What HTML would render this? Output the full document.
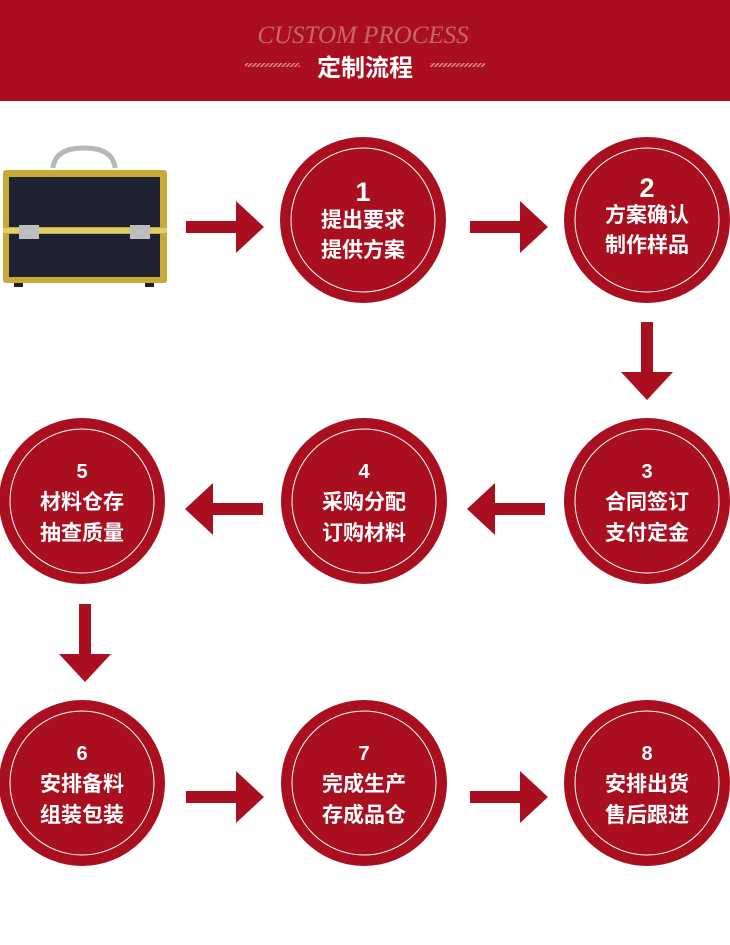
<!DOCTYPE html>
<html><head><meta charset="utf-8"><style>
html,body{margin:0;padding:0;background:#fff;width:730px;height:945px;overflow:hidden}
svg{display:block}
text{font-family:"Liberation Sans","Noto Sans CJK SC",sans-serif;font-weight:bold;fill:#fff;text-anchor:middle}
</style></head><body>
<svg width="730" height="945" viewBox="0 0 730 945" xmlns="http://www.w3.org/2000/svg">
<defs>
<pattern id="hatch" width="3" height="3" patternUnits="userSpaceOnUse" patternTransform="rotate(45)"><rect width="1.5" height="3" fill="#d98a92"/></pattern>
<g id="R"><rect x="0" y="-6" width="52" height="12" fill="#a90f1e"/><polygon points="50,-26 78,0 50,26" fill="#a90f1e"/></g>
</defs>
<rect x="0" y="0" width="730" height="101" fill="#a90f1e"/>
<text x="363" y="43" style="font-family:'Liberation Serif',serif;font-style:italic;font-weight:normal;font-size:25px;fill:#c56670">CUSTOM PROCESS</text>
<rect x="245" y="63" width="55" height="4" fill="url(#hatch)"/>
<rect x="430" y="63" width="55" height="4" fill="url(#hatch)"/>
<text x="365" y="76" style="font-size:24px">定制流程</text>

<!-- case -->
<g>
<path d="M53 168 Q55 148 84 148 Q113 148 115 168" fill="none" stroke="#b8b8b8" stroke-width="5"/>
<rect x="3" y="170" width="164" height="113" rx="3" fill="#c9a93a"/>
<rect x="9" y="177" width="151" height="50" fill="#1f2230"/>
<rect x="9" y="234" width="151" height="43" fill="#1f2230"/>
<rect x="3" y="228" width="164" height="5" fill="#e0cf70"/>
<rect x="19" y="225" width="20" height="14" fill="#bdbdbd"/>
<rect x="130" y="225" width="20" height="14" fill="#bdbdbd"/>
<rect x="14" y="283" width="9" height="4" fill="#222"/><rect x="145" y="283" width="9" height="4" fill="#222"/>
</g>

<g fill="#a90f1e">
<circle cx="363" cy="220" r="83"/><circle cx="647" cy="220" r="83"/>
<circle cx="82" cy="501" r="83"/><circle cx="364" cy="501" r="83"/><circle cx="647" cy="501" r="83"/>
<circle cx="82" cy="783" r="83"/><circle cx="364" cy="783" r="83"/><circle cx="647" cy="783" r="83"/>
</g>
<g fill="none" stroke="#fff" stroke-width="1">
<circle cx="363" cy="220" r="72"/><circle cx="647" cy="220" r="72"/>
<circle cx="82" cy="501" r="72"/><circle cx="364" cy="501" r="72"/><circle cx="647" cy="501" r="72"/>
<circle cx="82" cy="783" r="72"/><circle cx="364" cy="783" r="72"/><circle cx="647" cy="783" r="72"/>
</g>

<use href="#R" x="186" y="227"/>
<use href="#R" x="470" y="227"/>
<use href="#R" x="186" y="797"/>
<use href="#R" x="470" y="797"/>
<use href="#R" transform="translate(545,509) scale(-1,1)"/>
<use href="#R" transform="translate(263,509) scale(-1,1)"/>
<use href="#R" transform="translate(647,322) rotate(90)"/>
<use href="#R" transform="translate(85,604) rotate(90)"/>

<g style="font-size:21px">
<text x="363" y="201" style="font-size:27px">1</text><text x="363" y="227">提出要求</text><text x="363" y="257">提供方案</text>
<text x="647" y="197" style="font-size:27px">2</text><text x="647" y="222">方案确认</text><text x="647" y="252">制作样品</text>
<text x="82" y="478" style="font-size:20px">5</text><text x="82" y="509">材料仓存</text><text x="82" y="540">抽查质量</text>
<text x="364" y="478" style="font-size:20px">4</text><text x="364" y="509">采购分配</text><text x="364" y="540">订购材料</text>
<text x="647" y="478" style="font-size:20px">3</text><text x="647" y="509">合同签订</text><text x="647" y="540">支付定金</text>
<text x="82" y="760" style="font-size:20px">6</text><text x="82" y="791">安排备料</text><text x="82" y="822">组装包装</text>
<text x="364" y="760" style="font-size:20px">7</text><text x="364" y="791">完成生产</text><text x="364" y="822">存成品仓</text>
<text x="647" y="760" style="font-size:20px">8</text><text x="647" y="791">安排出货</text><text x="647" y="822">售后跟进</text>
</g>
</svg>
</body></html>
